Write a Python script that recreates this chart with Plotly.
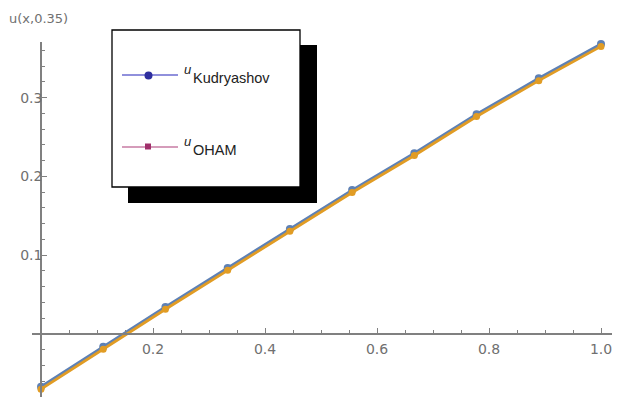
import plotly.graph_objects as go

# data
x_vals = [0, 1/9, 2/9, 3/9, 4/9, 5/9, 6/9, 7/9, 8/9, 1.0]
u_kudryashov = [-0.0670, -0.0163, 0.0344, 0.0838, 0.1333, 0.1826, 0.2295, 0.2790, 0.3245, 0.3680]
u_oham = [-0.0700, -0.0193, 0.0314, 0.0808, 0.1303, 0.1796, 0.2265, 0.2760, 0.3215, 0.3650]
x_ticks = [0.2, 0.4, 0.6, 0.8, 1.0]
x_tick_text = ["0.2", "0.4", "0.6", "0.8", "1.0"]
y_ticks = [0.1, 0.2, 0.3]
y_tick_text = ["0.1", "0.2", "0.3"]

W, H = 627, 397
OFF = 8                      # page body margin of the html
px0, pxs = 41.0, 560.0       # screen pixel of x=0, pixels per unit
py0, pys = 334.0, 788.0      # screen pixel of u=0, pixels per unit
BLUE = "#5E81B5"
ORANGE = "#E19C24"
GRAY = "#707070"
AXC = "#808080"

def px2x(p):
    return (p - px0) / pxs

def py2y(p):
    return (py0 - p) / pys

def P(px, py):
    """screen pixel -> paper coords"""
    return (px - OFF) / W, 1 - (py - OFF) / H

xl, xr = 32, 612
yt, yb = 42, 397

fig = go.Figure()
fig.add_trace(go.Scatter(x=x_vals, y=u_kudryashov, mode="lines+markers",
                         line=dict(color=BLUE, width=2.8),
                         marker=dict(size=8, color=BLUE, symbol="circle"),
                         cliponaxis=False, showlegend=False))
fig.add_trace(go.Scatter(x=x_vals, y=u_oham, mode="lines+markers",
                         line=dict(color=ORANGE, width=2.8),
                         marker=dict(size=7, color=ORANGE, symbol="circle"),
                         cliponaxis=False, showlegend=False))

shapes = []
# legend shadow and box
x0, y0 = P(128, 45); x1, y1 = P(317, 203)
shapes.append(dict(type="rect", xref="paper", yref="paper", x0=x0, y0=y1, x1=x1, y1=y0,
                   fillcolor="black", line=dict(width=0), layer="above"))
x0, y0 = P(112, 30); x1, y1 = P(300, 187)
shapes.append(dict(type="rect", xref="paper", yref="paper", x0=x0, y0=y1, x1=x1, y1=y0,
                   fillcolor="white", line=dict(color="black", width=1.3), layer="above"))
# legend sample lines
for (yy, col) in [(75, "#6B6BD0"), (147, "#C77BA3")]:
    a0, b0 = P(122, yy); a1, b1 = P(178, yy)
    shapes.append(dict(type="line", xref="paper", yref="paper", x0=a0, y0=b0, x1=a1, y1=b1,
                       line=dict(color=col, width=1.5), layer="above"))
# legend markers
a0, b0 = P(144.5, 71.5); a1, b1 = P(152.5, 79.5)
shapes.append(dict(type="circle", xref="paper", yref="paper", x0=a0, y0=b1, x1=a1, y1=b0,
                   fillcolor="#2E2E9E", line=dict(width=0), layer="above"))
a0, b0 = P(145, 143.5); a1, b1 = P(151, 149.5)
shapes.append(dict(type="rect", xref="paper", yref="paper", x0=a0, y0=b1, x1=a1, y1=b0,
                   fillcolor="#A0306B", line=dict(width=0), layer="above"))

annotations = []
def txt(s, px, py, size, color="#222222", xanchor="left", italic=False, family="Liberation Sans"):
    ax, ay = P(px, py)
    annotations.append(dict(text=s, x=ax, y=ay, xref="paper", yref="paper",
                            xanchor=xanchor, yanchor="middle", showarrow=False,
                            font=dict(size=size, color=color, family=family,
                                      style="italic" if italic else "normal")))

txt("u", 182, 69, 13, italic=True)
txt("Kudryashov", 191, 78, 14.5)
txt("u", 182, 141, 13, italic=True)
txt("OHAM", 191, 150, 14.5)
txt("u(x,0.35)", 7, 19, 13, color=GRAY, family="DejaVu Sans")
txt("x", 617, 334, 13, color=GRAY, family="DejaVu Sans")

fig.update_layout(
    width=W, height=H,
    margin=dict(l=0, r=0, t=0, b=0, autoexpand=False),
    paper_bgcolor="white", plot_bgcolor="white",
    shapes=shapes, annotations=annotations,
    font=dict(family="DejaVu Sans", color=GRAY, size=14),
    xaxis=dict(domain=[(xl - OFF) / W, (xr - OFF) / W], range=[px2x(xl), px2x(xr)],
               anchor="free", position=1 - (py0 - OFF) / H,
               showgrid=False, zeroline=False, showline=True,
               linecolor=AXC, linewidth=1.5,
               ticks="inside", ticklen=5, tickwidth=1.2, tickcolor=AXC,
               tickvals=x_ticks, ticktext=x_tick_text,
               ticklabelstandoff=2,
               minor=dict(ticks="inside", dtick=0.05, tick0=0, ticklen=3,
                          tickwidth=1, tickcolor=AXC, showgrid=False)),
    yaxis=dict(domain=[1 - (yb - OFF) / H, 1 - (yt - OFF) / H], range=[py2y(yb), py2y(yt)],
               anchor="free", position=(px0 - OFF) / W,
               showgrid=False, zeroline=False, showline=True,
               linecolor=AXC, linewidth=1.5,
               ticks="inside", ticklen=5, tickwidth=1.2, tickcolor=AXC,
               tickvals=y_ticks, ticktext=y_tick_text,
               ticklabelstandoff=-5,
               minor=dict(ticks="inside", dtick=0.02, tick0=0, ticklen=3,
                          tickwidth=1, tickcolor=AXC, showgrid=False)),
)

fig.write_html("out.html")
